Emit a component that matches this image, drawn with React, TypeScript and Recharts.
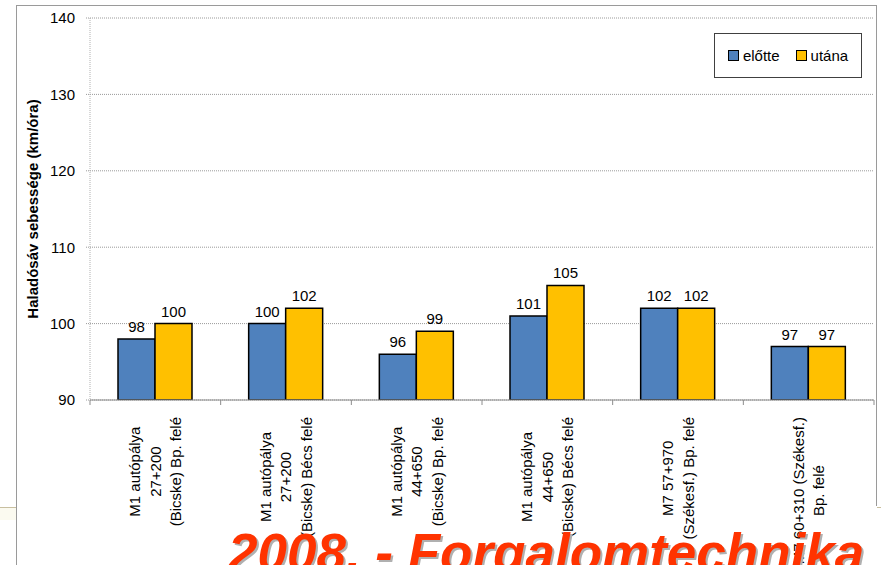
import React from "react";
import { BarChart, Bar, XAxis, YAxis, CartesianGrid, LabelList } from "recharts";

const categories = [
  ["M1 autópálya", "27+200", "(Bicske) Bp. felé"],
  ["M1 autópálya", "27+200", "(Bicske) Bécs felé"],
  ["M1 autópálya", "44+650", "(Bicske) Bp. felé"],
  ["M1 autópálya", "44+650", "(Bicske) Bécs felé"],
  ["M7 57+970", "(Székesf.) Bp. felé"],
  ["M7 60+310 (Székesf.)", "Bp. felé"],
];
const elotte = [98, 100, 96, 101, 102, 97];
const utana = [100, 102, 99, 105, 102, 97];
const yTicks = [90, 100, 110, 120, 130, 140];
const seriesNames = ["előtte", "utána"];
const seriesColors = ["#4F81BD", "#FFC000"];

const data = categories.map((lines, i) => ({
  name: lines.join("\n"),
  elotte: elotte[i],
  utana: utana[i],
}));

const W = 881;
const H = 565;
const TOP = 18;
const LEFT = 90;
const RIGHT_M = 7;
const PLOT_BOTTOM = 400;
const BAND = (W - LEFT - RIGHT_M) / categories.length;
const TICK_FONT = '15px "Liberation Sans", Arial, sans-serif';

let ctx: CanvasRenderingContext2D | null = null;
const measure = (s: string) => {
  if (!ctx) ctx = document.createElement("canvas").getContext("2d");
  if (!ctx) return s.length * 6.5;
  ctx.font = TICK_FONT;
  return ctx.measureText(s).width;
};

// rotated, multi-line category label plus boundary tick marks
const CatTick = (props: any) => {
  const { x, payload, index } = props;
  const lines: string[] = String(payload.value).split("\n");
  const maxW = Math.max(...lines.map(measure));
  const cy = PLOT_BOTTOM + 17 + maxW / 2;
  const lh = 20.5;
  const x0 = x - ((lines.length - 1) * lh) / 2;
  return (
    <g>
      <line x1={x - BAND / 2} x2={x - BAND / 2} y1={PLOT_BOTTOM} y2={PLOT_BOTTOM + 5} stroke="#8c8c8c" />
      {index === categories.length - 1 && (
        <line x1={x + BAND / 2} x2={x + BAND / 2} y1={PLOT_BOTTOM} y2={PLOT_BOTTOM + 5} stroke="#8c8c8c" />
      )}
      {lines.map((l, i) => {
        const lx = x0 + i * lh;
        return (
          <text
            key={i}
            x={lx}
            y={cy}
            transform={`rotate(-90, ${lx}, ${cy})`}
            textAnchor="middle"
            dominantBaseline="central"
            style={{ font: TICK_FONT }}
            fill="#000"
          >
            {l}
          </text>
        );
      })}
    </g>
  );
};

const YTitle = (props: any) => {
  const vb = props.viewBox || {};
  const cx = 32;
  const cy = (vb.y ?? TOP) + (vb.height ?? 382) / 2;
  return (
    <text
      x={cx}
      y={cy}
      transform={`rotate(-90, ${cx}, ${cy})`}
      textAnchor="middle"
      dominantBaseline="central"
      style={{ font: 'bold 15px "Liberation Sans", Arial, sans-serif' }}
      fill="#000"
    >
      Haladósáv sebessége (km/óra)
    </text>
  );
};

export default function App() {
  return (
    <div style={{ position: "fixed", left: 0, top: 0, width: W, height: H, background: "#fff", overflow: "hidden" }}>
      {/* slide frame */}
      <div style={{ position: "absolute", left: 16, top: 5, width: 1, height: H, background: "#9a9a9a" }} />
      <div style={{ position: "absolute", left: 16, top: 5, width: 861, height: 1, background: "#9a9a9a" }} />
      <div style={{ position: "absolute", left: 876, top: 5, width: 1, height: 501, background: "#9a9a9a" }} />
      <div style={{ position: "absolute", left: 0, top: 507, width: 16, height: 1, background: "#c8bfa0" }} />
      <div style={{ position: "absolute", left: 877, top: 507, width: 4, height: 1, background: "#c8bfa0" }} />
      <div style={{ position: "absolute", left: 0, top: 508, width: 16, height: 12, background: "#fbfaf0" }} />

      <div style={{ position: "absolute", left: 0, top: 0 }}>
        <BarChart
          width={W}
          height={H}
          data={data}
          margin={{ top: TOP, right: RIGHT_M, left: 0, bottom: 0 }}
          barCategoryGap={28}
          barGap={0}
        >
          <CartesianGrid vertical={false} stroke="#9a9a9a" strokeDasharray="1 1" />
          <YAxis
            width={LEFT}
            domain={[90, 140]}
            ticks={yTicks}
            interval={0}
            allowDataOverflow
            axisLine={{ stroke: "#b0b0b0", strokeDasharray: "1 1" }}
            tickLine={{ stroke: "#9a9a9a", strokeDasharray: "1 1" }}
            tickSize={4}
            tickMargin={11}
            tick={{ fill: "#000", fontSize: 15, fontFamily: '"Liberation Sans", Arial, sans-serif' }}
            label={<YTitle />}
          />
          <XAxis
            dataKey="name"
            height={H - TOP - (PLOT_BOTTOM - TOP)}
            interval={0}
            axisLine={{ stroke: "#8c8c8c" }}
            tickLine={false}
            tick={<CatTick />}
          />
          <Bar dataKey="elotte" name={seriesNames[0]} fill={seriesColors[0]} stroke="#000" strokeWidth={1.5} isAnimationActive={false}>
            <LabelList dataKey="elotte" position="top" offset={7} fill="#000" fontSize={15} fontFamily='"Liberation Sans", Arial, sans-serif' />
          </Bar>
          <Bar dataKey="utana" name={seriesNames[1]} fill={seriesColors[1]} stroke="#000" strokeWidth={1.5} isAnimationActive={false}>
            <LabelList dataKey="utana" position="top" offset={7} fill="#000" fontSize={15} fontFamily='"Liberation Sans", Arial, sans-serif' />
          </Bar>
        </BarChart>
      </div>

      {/* legend */}
      <div
        style={{
          position: "absolute",
          left: 714,
          top: 33,
          width: 146,
          height: 43,
          border: "1px solid #404040",
          background: "#fff",
          display: "flex",
          alignItems: "center",
          justifyContent: "center",
          gap: 16,
          font: '15px "Liberation Sans", Arial, sans-serif',
          color: "#000",
        }}
      >
        {seriesNames.map((n, i) => (
          <span key={n} style={{ display: "flex", alignItems: "center", gap: 4 }}>
            <span style={{ width: 9, height: 9, background: seriesColors[i], border: "1px solid #000", display: "inline-block" }} />
            {n}
          </span>
        ))}
      </div>

      {/* slide title */}
      <svg width={W} height={H} style={{ position: "absolute", left: 0, top: 0, pointerEvents: "none" }}>
        <text x={230} y={573} fill="#b0b0b0" style={{ font: 'italic bold 53px "Liberation Sans", Arial, sans-serif' }}>
          2008. - Forgalomtechnika
        </text>
        <text x={228} y={571} fill="#FF3300" style={{ font: 'italic bold 53px "Liberation Sans", Arial, sans-serif' }}>
          2008. - Forgalomtechnika
        </text>
      </svg>
    </div>
  );
}
